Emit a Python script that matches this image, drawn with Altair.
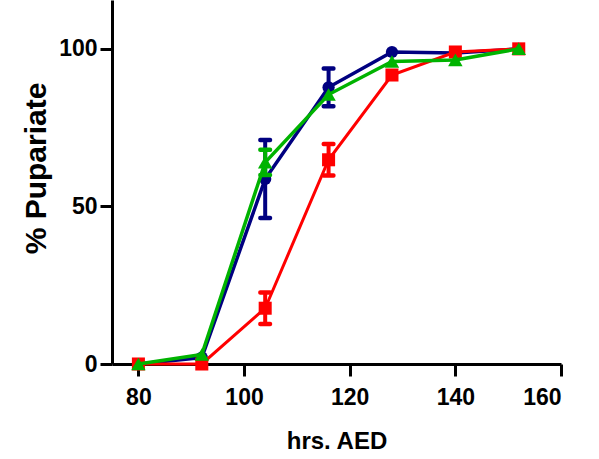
import altair as alt
import pandas as pd

# Data
hours = [80, 92, 104, 116, 128, 140, 152]
series_names = ["blue", "red", "green"]
blue_y = [0, 2, 58.7, 87.8, 99, 98.7, 100]
blue_err = [0, 0, 12.4, 6, 0, 0, 0]
red_y = [0, 0, 17.7, 64.8, 91.7, 99, 100]
red_err = [0, 0, 5, 5, 0, 0, 0]
green_y = [0, 3, 64, 85.5, 96, 96.5, 100]
green_err = [0, 0, 4, 0, 0, 0, 0]

colors = {"blue": "#000080", "red": "#FF0000", "green": "#00B300"}
shapes = {"blue": "circle", "red": "square", "green": "triangle-up"}
sizes = {"blue": 150, "red": 170, "green": 210}
widths = {"blue": 3.5, "red": 3, "green": 3.5}
values = {"blue": (blue_y, blue_err), "red": (red_y, red_err), "green": (green_y, green_err)}

x_scale = alt.Scale(domain=[75, 160], nice=False, zero=False)
y_scale = alt.Scale(domain=[0, 115.5], nice=False)

common = dict(grid=False, domainColor="black", domainWidth=3,
              tickColor="black", tickWidth=3, tickSize=12,
              labelFont="Liberation Sans", labelFontWeight="bold",
              labelFontSize=23, labelColor="black",
              titleFont="Liberation Sans", titleFontWeight="bold",
              titleColor="black")

x_axis = alt.Axis(values=[80, 100, 120, 140, 160], title="hrs. AED",
                  titleFontSize=24, titleY=77, titleBaseline="middle",
                  labelPadding=10, **common)
y_axis = alt.Axis(values=[0, 50, 100], title="% Pupariate",
                  titleFontSize=30, titleX=-76, titleY=168,
                  titleAlign="center", titleBaseline="middle",
                  labelPadding=3, **common)


def X(field):
    return alt.X(field, type="quantitative", scale=x_scale, axis=x_axis, title="hrs. AED")


def Y(field):
    return alt.Y(field, type="quantitative", scale=y_scale, axis=y_axis, title="% Pupariate")


layers = []
for name in series_names:
    ys, errs = values[name]
    df = pd.DataFrame({"x": hours, "y": ys, "err": errs})
    df["lo"] = df["y"] - df["err"]
    df["hi"] = df["y"] + df["err"]
    c = colors[name]
    base = alt.Chart(df)
    line = base.mark_line(color=c, strokeWidth=widths[name]).encode(x=X("x"), y=Y("y"))
    errdf = base.transform_filter("datum.err > 0")
    rule = errdf.mark_rule(color=c, strokeWidth=4).encode(
        x=X("x"), y=Y("lo"), y2="hi:Q")
    cap_hi = errdf.mark_tick(color=c, orient="horizontal", size=14, thickness=4.5,
                             cornerRadius=2, opacity=1).encode(x=X("x"), y=Y("hi"))
    cap_lo = errdf.mark_tick(color=c, orient="horizontal", size=14, thickness=4.5,
                             cornerRadius=2, opacity=1).encode(x=X("x"), y=Y("lo"))
    pts = base.mark_point(shape=shapes[name], filled=True, opacity=1,
                          color=c, size=sizes[name]).encode(x=X("x"), y=Y("y"))
    layers += [line, rule, cap_hi, cap_lo, pts]

chart = alt.layer(*layers).properties(
    width=449, height=364,
    padding={"left": 112, "top": 0, "right": 38, "bottom": 95},
    autosize="none",
    background="white",
).configure_view(strokeWidth=0, stroke="transparent")

chart.save("out.html", embed_options={"renderer": "svg", "actions": False})
